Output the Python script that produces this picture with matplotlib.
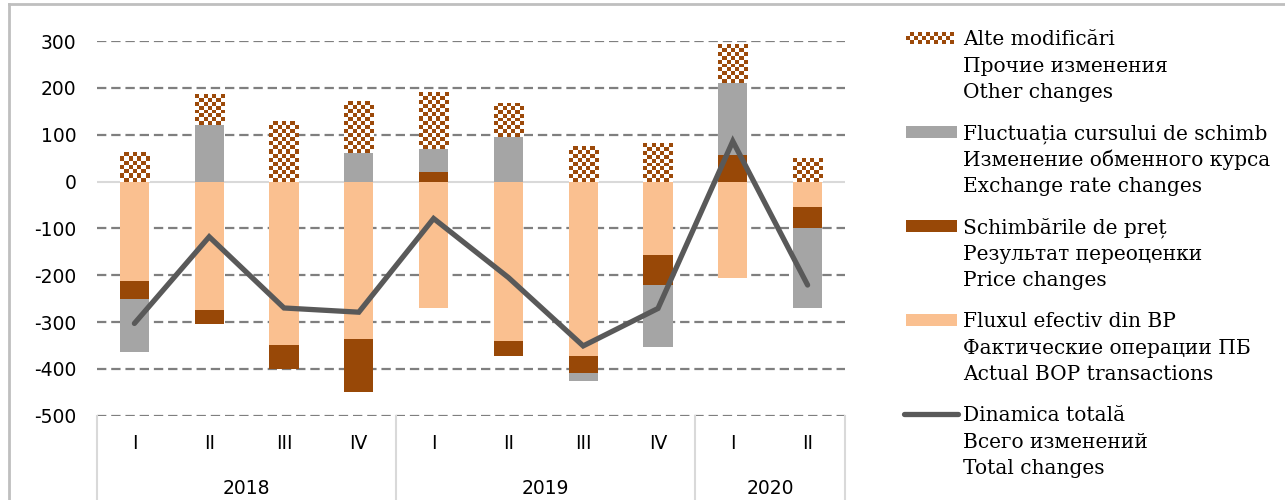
import numpy as np
import matplotlib
matplotlib.use("Agg")
import matplotlib.pyplot as plt
from matplotlib.patches import Rectangle
from matplotlib.lines import Line2D

plt.rcParams["axes.unicode_minus"] = False

# Data (mil. USD)
quarters = ["I", "II", "III", "IV", "I", "II", "III", "IV", "I", "II"]
years = ["2018", "2019", "2020"]
year_spans = [(0, 3), (4, 7), (8, 9)]

actual_bop = [-213, -274, -350, -337, -270, -341, -373, -156, -207, -54]
price_changes = [-38, -30, -50, -113, 21, -31, -36, -65, 56, -46]
exchange_changes = [-114, 120, 0, 60, 49, 94, -17, -133, 155, -171]
other_changes = [62, 66, 130, 111, 121, 73, 75, 83, 82, 50]
total_changes = [-303, -118, -270, -279, -79, -205, -351, -271, 86, -221]

legend_labels = [
    ["Alte modificări", "Прочие изменения", "Other changes"],
    ["Fluctuația cursului de schimb", "Изменение обменного курса", "Exchange rate changes"],
    ["Schimbările de preț", "Результат переоценки", "Price changes"],
    ["Fluxul efectiv din BP", "Фактические операции ПБ", "Actual BOP transactions"],
    ["Dinamica totală", "Всего изменений", "Total changes"],
]

c_actual = "#FAC090"
c_price = "#984807"
c_exch = "#A5A5A5"
c_other = "#9C4A0A"
c_line = "#595959"

W, H = 1285, 500
fig = plt.figure(figsize=(W / 100, H / 100), dpi=100)
ax = fig.add_axes([97 / W, 1 - 415.7 / H, (845 - 97) / W, (415.7 - 41) / H])

x = np.arange(len(quarters))
bw = 0.39

# stack positives upward and negatives downward, in series order
series = [actual_bop, price_changes, exchange_changes, other_changes]
colors = [c_actual, c_price, c_exch, None]
pos_base = np.zeros(len(x))
neg_base = np.zeros(len(x))
other_bars = []
for vals, col in zip(series, colors):
    vals = np.array(vals, dtype=float)
    bottoms = np.where(vals >= 0, pos_base, neg_base)
    if col is None:
        other_bars = ax.bar(x, vals, bw, bottom=bottoms, color="white", linewidth=0, zorder=2)
    else:
        ax.bar(x, vals, bw, bottom=bottoms, color=col, linewidth=0, zorder=2)
    pos_base = pos_base + np.where(vals >= 0, vals, 0)
    neg_base = neg_base + np.where(vals < 0, vals, 0)

ax.set_xlim(-0.5, 9.5)
ax.set_ylim(-500, 300)

# checkerboard fill for "other changes"
px_x = 74.8  # pixels per category
px_y = 374.7 / 800  # pixels per unit
cell = 4.0
cmap = matplotlib.colors.ListedColormap(["white", c_other])
for b in other_bars:
    x0, y0 = b.get_x(), b.get_y()
    w, h = b.get_width(), b.get_height()
    nx = max(1, int(round(w * px_x / cell)))
    ny = max(1, int(round(abs(h) * px_y / cell)))
    ii, jj = np.indices((ny, nx))
    board = ((ii + jj) % 2).astype(float)
    y_lo, y_hi = min(y0, y0 + h), max(y0, y0 + h)
    im = ax.imshow(board, cmap=cmap, extent=(x0, x0 + w, y_lo, y_hi),
                   interpolation="nearest", aspect="auto", zorder=3, origin="lower")
    im.set_clip_path(b)

ax.plot(x, total_changes, color=c_line, lw=3.8, zorder=4, solid_capstyle="round",
        solid_joinstyle="miter")

# grid
for v in range(-500, 301, 100):
    if v == 0:
        ax.axhline(0, color="#D9D9D9", lw=1.5, zorder=1)
    else:
        ax.axhline(v, color="#7F7F7F", lw=1.6, ls=(0, (4.2, 2.2)), zorder=1)

for s in ax.spines.values():
    s.set_visible(False)
ax.set_yticks(range(-500, 301, 100))
ax.tick_params(axis="y", length=0, pad=15, labelsize=13.5)
ax.set_xticks([])

# multi-level category axis
xt = ax.get_xaxis_transform()
for i, q in enumerate(quarters):
    ax.text(i, -0.075, q, transform=xt, ha="center", va="center", fontsize=13.5)
for yr, (a, b) in zip(years, year_spans):
    ax.text((a + b) / 2, -0.193, yr, transform=xt, ha="center", va="center", fontsize=13.5)
for sep in [-0.5, 3.5, 7.5, 9.5]:
    ax.plot([sep, sep], [0, -0.3], transform=xt, color="#D9D9D9", lw=1.5,
            clip_on=False, zorder=1)

# outer chart border (cropped)
fig.add_artist(Line2D([9 / W, 1.0], [1 - 3.5 / H, 1 - 3.5 / H], color="#BFBFBF", lw=2))
fig.add_artist(Line2D([9 / W, 9 / W], [0, 1 - 3.5 / H], color="#BFBFBF", lw=2))

# legend, drawn by hand
lx0, lx1, tx = 906, 957, 963
patch_colors = [c_other, c_exch, c_price, c_actual]
for k, lines in enumerate(legend_labels):
    base = 45 + k * 94
    cy = base - 7
    if k == 4:
        fig.add_artist(Line2D([(lx0 - 2) / W, (lx1 + 1) / W], [1 - cy / H, 1 - cy / H],
                              color=c_line, lw=3.8, solid_capstyle="round"))
    elif k == 0:
        n = int((lx1 - lx0) / cell)
        for j in range(n):
            for r in range(3):
                if (j + r) % 2:
                    fig.add_artist(Rectangle(((lx0 + j * cell) / W, 1 - (cy + 6 - r * cell) / H),
                                             cell / W, cell / H, color=c_other, lw=0))
    else:
        fig.add_artist(Rectangle((lx0 / W, 1 - (cy + 6) / H), (lx1 - lx0) / W, 12 / H,
                                 color=patch_colors[k], lw=0))
    for m, t in enumerate(lines):
        fig.text(tx / W, 1 - (base + m * 26.7) / H, t, ha="left", va="baseline",
                 fontsize=14.5, fontfamily="DejaVu Serif")

fig.savefig("out.png", dpi=100)
